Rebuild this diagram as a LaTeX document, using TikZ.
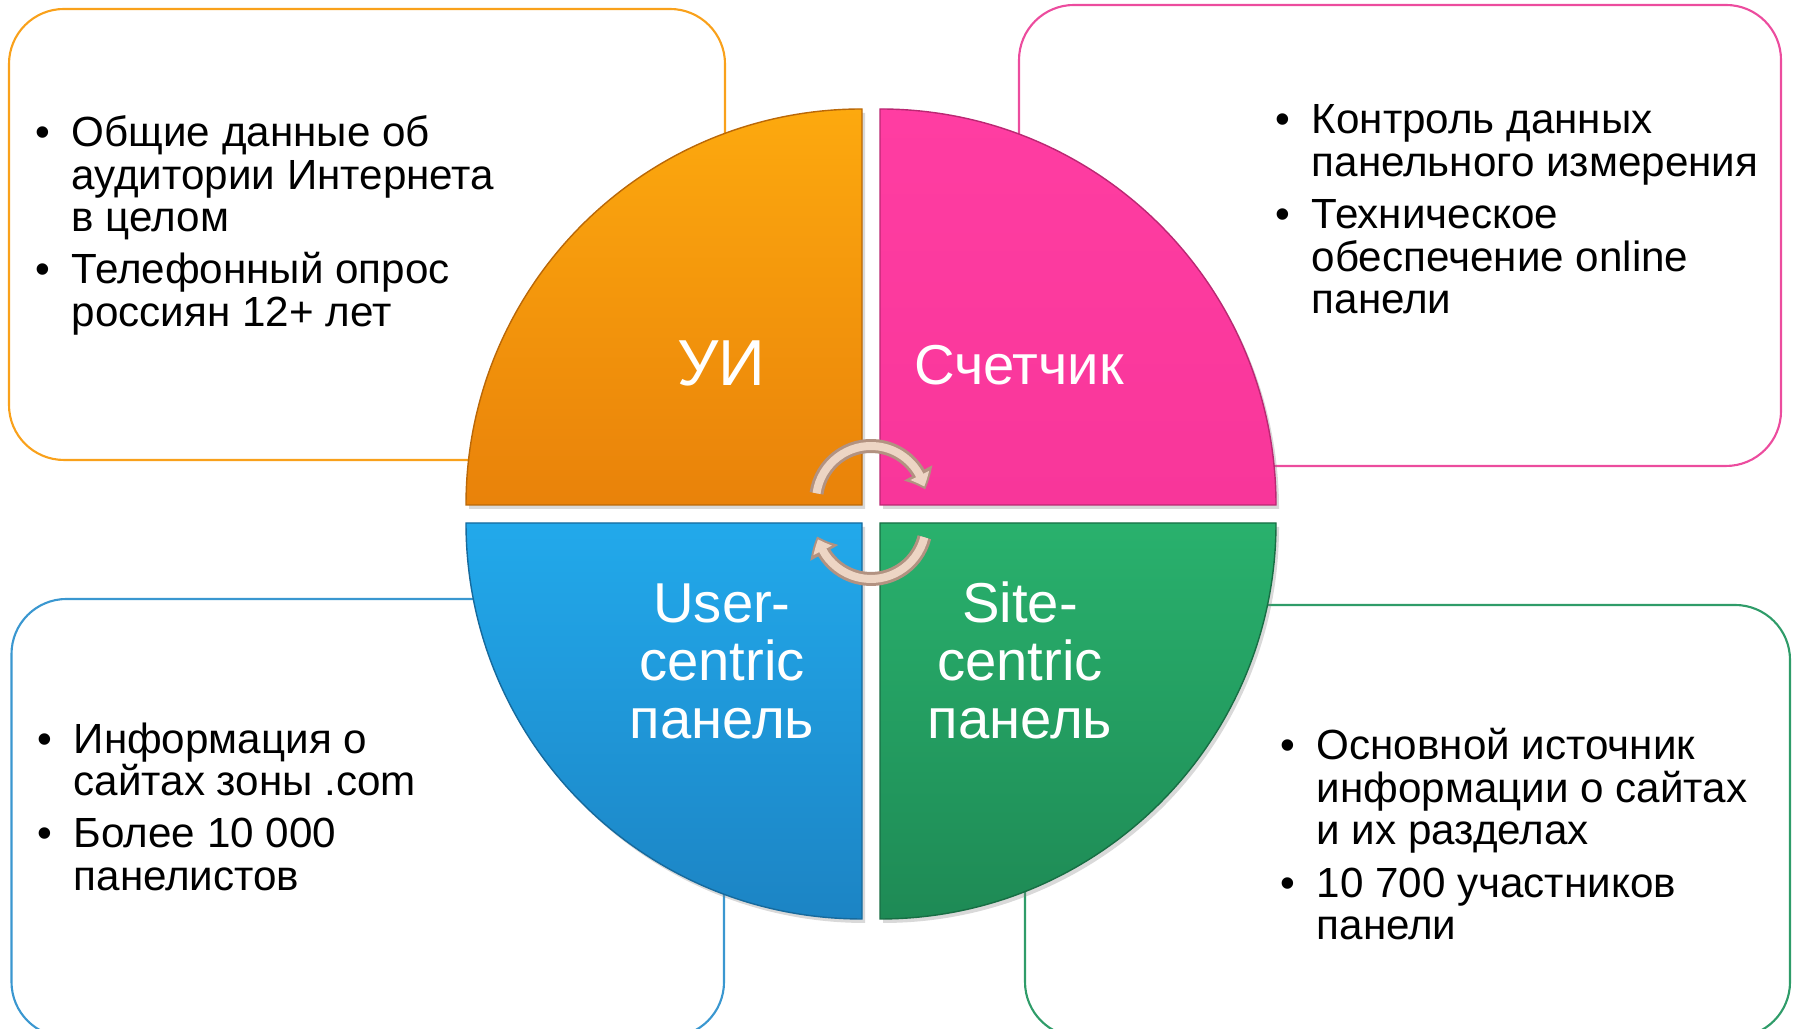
\documentclass[tikz,border=0pt]{standalone}
\usepackage{fontspec}
\setmainfont{Liberation Sans}
\usetikzlibrary{arrows.meta}
\usetikzlibrary{bending}
\usetikzlibrary{shadows}
\definecolor{boxog}{HTML}{F9A11B}
\definecolor{boxpk}{HTML}{EC4C9E}
\definecolor{boxbl}{HTML}{3A97D0}
\definecolor{boxgr}{HTML}{2F9C69}
\definecolor{ogtop}{HTML}{FDA90E}
\definecolor{ogbot}{HTML}{E9820A}
\definecolor{pktop}{HTML}{FF3DA2}
\definecolor{pkbot}{HTML}{F8369A}
\definecolor{bltop}{HTML}{22A9EB}
\definecolor{blbot}{HTML}{1C84C4}
\definecolor{grtop}{HTML}{29B16D}
\definecolor{grbot}{HTML}{1E8A55}
\definecolor{shell}{HTML}{EDD5C4}
\definecolor{rim}{HTML}{B29281}
\tikzstyle{panel} = [rounded corners=0.55cm, line width=0.6pt]
\tikzstyle{notes} = [anchor=base west, inner sep=0pt, font=\fontsize{12}{12.05}\selectfont]
\tikzstyle{sector} = [line width=0.4pt, drop shadow={opacity=0.3, shadow xshift=0.03cm, shadow yshift=-0.04cm}]
\tikzstyle{title} = [text=white, inner sep=0pt, anchor=base, align=center, text width=3cm, font=\fontsize{16}{16.45}\selectfont]
\tikzstyle{rimarrow} = [line width=0.14cm, rim, -{Triangle[width=0.31cm, length=0.18cm, bend]}]
\tikzstyle{shellarrow} = [line width=0.08cm, shell, -{Triangle[width=0.2cm, length=0.12cm, bend]}, shorten >=0.03cm]
\newcommand\bitem[1]{\hangindent=0.36cm\hangafter=1\noindent\makebox[0.36cm][l]{\textbullet}#1\par\vspace{0.1cm}}
\newcommand\notelist[1]{\vtop{\hsize=7cm\parindent=0pt\parskip=0pt\raggedright #1}}

\begin{document}
\begin{tikzpicture}
	\useasboundingbox (0,0) rectangle (17.96,10.29);
	\draw[panel, boxog] (0.09,5.69) rectangle (7.25,10.20);
	\draw[panel, boxpk] (10.19,5.63) rectangle (17.81,10.24);
	\draw[panel, boxbl] (0.115,-0.08) rectangle (7.24,4.30);
	\draw[panel, boxgr] (10.25,-0.08) rectangle (17.90,4.24);
	\draw[sector, draw=ogbot!80!black, top color=ogtop, bottom color=ogbot] (8.62,5.24) -- (4.66,5.24) arc[start angle=180, end angle=90, radius=3.96] -- cycle;
	\draw[sector, draw=pkbot!75!black, top color=pktop, bottom color=pkbot] (8.80,5.24) -- (8.80,9.20) arc[start angle=90, end angle=0, radius=3.96] -- cycle;
	\draw[sector, draw=blbot!80!black, top color=bltop, bottom color=blbot] (8.62,5.06) -- (4.66,5.06) arc[start angle=180, end angle=270, radius=3.96] -- cycle;
	\draw[sector, draw=grbot!80!black, top color=grtop, bottom color=grbot] (8.80,5.06) -- (12.76,5.06) arc[start angle=0, end angle=-90, radius=3.96] -- cycle;
	\node[title, font=\fontsize{18.5}{19}\selectfont] (ui) at (7.215,6.43) {УИ};
	\node[title] (counter) at (10.19,6.44) {Счетчик};
	\node[title] (usercentric) at (7.22,4.06) {User-\\centric\\панель};
	\node[title] (sitecentric) at (10.20,4.06) {Site-\\centric\\панель};
	\coordinate (hubup) at (8.71,5.28);
	\coordinate (hubdown) at (8.71,5.05);
	\draw[rimarrow] ([shift={(172:0.55)}]hubup) arc[start angle=172, end angle=12, radius=0.55];
	\draw[shellarrow] ([shift={(172:0.55)}]hubup) arc[start angle=172, end angle=12, radius=0.55];
	\draw[rimarrow] ([shift={(-14:0.55)}]hubdown) arc[start angle=-14, end angle=-167, radius=0.55];
	\draw[shellarrow] ([shift={(-14:0.55)}]hubdown) arc[start angle=-14, end angle=-167, radius=0.55];
	\node[notes] (uinotes) at (0.35,8.823) {\notelist{\bitem{Общие данные об\newline аудитории Интернета\newline в целом}\bitem{Телефонный опрос\newline россиян 12+ лет}}};
	\node[notes] (counternotes) at (12.75,8.95) {\notelist{\bitem{Контроль данных\newline панельного измерения}\bitem{Техническое\newline обеспечение online\newline панели}}};
	\node[notes] (usernotes) at (0.37,2.757) {\notelist{\bitem{Информация о\newline сайтах зоны .com}\bitem{Более 10 000\newline панелистов}}};
	\node[notes] (sitenotes) at (12.80,2.69) {\notelist{\bitem{Основной источник\newline информации о сайтах\newline и их разделах}\bitem{10 700 участников\newline панели}}};
\end{tikzpicture}
\end{document}
